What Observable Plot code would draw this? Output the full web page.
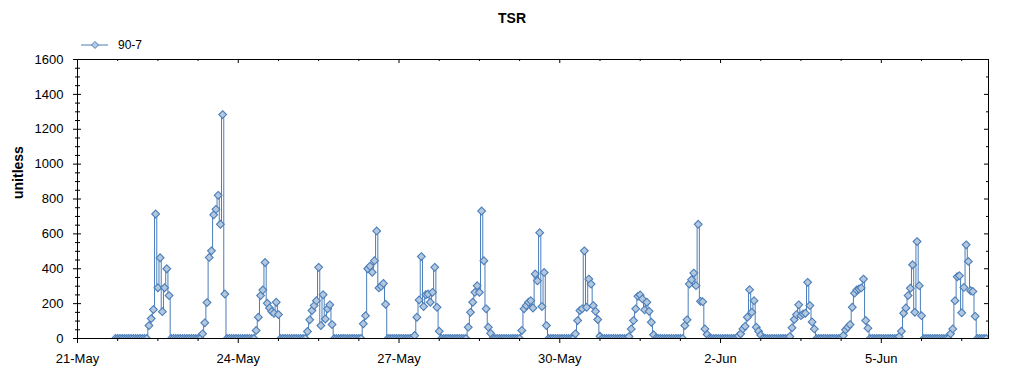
<!DOCTYPE html>
<html><head><meta charset="utf-8">
<script src="https://cdn.jsdelivr.net/npm/d3@7"></script>
<script src="https://cdn.jsdelivr.net/npm/@observablehq/plot@0.6"></script>
<style>
body{margin:0;background:#fff;font-family:"Liberation Sans",Arial,sans-serif;}
#wrap{position:relative;width:1024px;height:375px;overflow:hidden;background:#fff}
#head{position:relative;width:1024px;height:50px}
#title{position:absolute;left:0;width:1024px;top:10px;text-align:center;font-weight:bold;font-size:14px;line-height:16px}
#legend{position:absolute;left:80px;top:37px}
#chart svg{display:block}
</style></head>
<body><div id="wrap"><div id="head"><div id="title">TSR</div>
<svg id="legend" width="80" height="16"><line x1="1" y1="8" x2="28" y2="8" stroke="#4a7ebb" stroke-width="1"/><path d="M15,4.5L18.5,8L15,11.5L11.5,8Z" fill="#b9cbe0" stroke="#4a7ebb"/><text x="38" y="12" font-size="12" font-family="Liberation Sans, Arial, sans-serif">90-7</text></svg>
</div><div id="chart"></div></div>
<script>
// Series name
const seriesName = "90-7";
// hourly record window (hours after 21-May 00:00)
const firstHour = 17;
const lastHour = 407;
// days with non-zero readings (day index after 21-May) and first hour of the day with a reading
const activeDays = [1,2,3,4,5,6,7,8,9,10,11,12,13,14,15,16];
const firstReadingHour = [8,8,8,7,8,7,7,7,7,7,8,8,7,7,8,7];
// hourly readings during each active day
const day22May = [74,114,166,714,291,463,154,291,400,246];
const day23May = [27,90,206,465,503,709,741,821,655,1284,255];
const day24May = [46,122,246,278,436,202,175,155,145,208,137];
const day25May = [40,107,160,189,217,408,74,251,112,170,193,80];
const day26May = [84,131,400,415,380,446,617,290,300,316,196];
const day27May = [17,122,221,470,183,251,255,208,265,408,179,42];
const day28May = [65,150,208,265,303,265,731,446,170,65,30];
const day29May = [46,170,189,208,217,175,370,331,607,183,379,74];
const day30May = [27,103,160,170,503,179,341,312,189,156,109,13];
const day31May = [11,55,103,170,242,250,227,164,208,156,93,21];
const day1Jun = [74,107,312,337,375,303,655,213,211,55,23];
const day2Jun = [15,27,55,70,122,280,150,217,65,42,20];
const day3Jun = [11,61,109,137,193,131,141,145,322,189,95,55];
const day4Jun = [17,50,65,80,179,260,278,284,290,341,103,59];
const day5Jun = [11,42,145,175,246,288,423,150,556,303,131];
const day6Jun = [27,55,217,354,360,147,293,537,442,274,270,127];
const dayValues = [day22May,day23May,day24May,day25May,day26May,day27May,day28May,day29May,day30May,day31May,day1Jun,day2Jun,day3Jun,day4Jun,day5Jun,day6Jun];

// axis ticks
const xTickDays = [0,3,6,9,12,15];
const xTickLabels = ["21-May","24-May","27-May","30-May","2-Jun","5-Jun"];
const xMinorHours = [18,36,54,90,108,126,162,180,198,234,252,270,306,324,342,378,396];
const yMajorTicks = [0,200,400,600,800,1000,1200,1400,1600];
const yMinorLeft = [50,100,150,250,300,350,450,500,550,650,700,750,850,900,950,1050,1100,1150,1250,1300,1350,1450,1500,1550];
const yMinorRight = [100,300,500,700,900,1100,1300,1500];

const t0 = Date.UTC(2010,4,21);
const toDate = h => new Date(t0 + h*3600e3);
const series = [];
for (let h = firstHour; h <= lastHour; h++) series.push({date: toDate(h), value: 0});
activeDays.forEach((d,i) => {
  dayValues[i].forEach((v,j) => {
    const h = d*24 + firstReadingHour[i] + j;
    series[h - firstHour].value = v;
  });
});

const xStart = toDate(0), xEnd = toDate(408);
const xMajorDates = xTickDays.map(d => toDate(d*24));
const xMinorDates = xMinorHours.map(toDate);
const lineColor = "#4a7ebb";

const chart = Plot.plot({
  width: 1024, height: 325,
  marginTop: 9, marginBottom: 37, marginLeft: 77, marginRight: 36,
  style: {fontFamily: "Liberation Sans, Arial, sans-serif", fontSize: "13px", color: "black", background: "white", overflow: "visible"},
  x: {type: "utc", domain: [xStart, xEnd]},
  y: {domain: [0, 1600]},
  marks: [
    Plot.line(series, {x: "date", y: "value", curve: "step", stroke: lineColor, strokeWidth: 1, clip: true}),
    Plot.dot(series, {x: "date", y: "value", symbol: "diamond2", r: 3.5, fill: "#b4c7dc", stroke: lineColor, strokeWidth: 1.1, clip: true}),
    Plot.frame({stroke: "black"}),
    // left ticks (crossing)
    Plot.ruleY(yMajorTicks, {y: d => d, x1: () => xStart, x2: () => xStart, insetLeft: -4, insetRight: -4, stroke: "black"}),
    Plot.ruleY(yMinorLeft, {y: d => d, x1: () => xStart, x2: () => xStart, insetLeft: -2, insetRight: -3, stroke: "black"}),
    // right ticks (inward)
    Plot.ruleY(yMajorTicks, {y: d => d, x1: () => xEnd, x2: () => xEnd, insetLeft: -4, insetRight: 0, stroke: "black"}),
    Plot.ruleY(yMinorRight, {y: d => d, x1: () => xEnd, x2: () => xEnd, insetLeft: -2, insetRight: 0, stroke: "black"}),
    // bottom ticks (outward)
    Plot.ruleX(xMajorDates, {x: d => d, y1: () => 0, y2: () => 0, insetTop: 0, insetBottom: -5, stroke: "black"}),
    Plot.ruleX(xMinorDates, {x: d => d, y1: () => 0, y2: () => 0, insetTop: 0, insetBottom: -3, stroke: "black"}),
    // top ticks (inward)
    Plot.ruleX(xMajorDates, {x: d => d, y1: () => 1600, y2: () => 1600, insetTop: 0, insetBottom: -4, stroke: "black"}),
    Plot.ruleX(xMinorDates, {x: d => d, y1: () => 1600, y2: () => 1600, insetTop: 0, insetBottom: -2, stroke: "black"}),
    Plot.axisY(yMajorTicks, {tickSize: 0, tickPadding: 14, label: null, tickFormat: d => String(d)}),
    Plot.axisX(xMajorDates, {tickSize: 0, tickPadding: 15, label: null, tickFormat: d => xTickLabels[xMajorDates.findIndex(t => +t === +d)]}),
    Plot.text(["unitless"], {text: d => d, frameAnchor: "left", rotate: -90, dx: -59, fontWeight: "bold", fontSize: 14})
  ]
});
document.getElementById("chart").appendChild(chart);
</script>
</body></html>
